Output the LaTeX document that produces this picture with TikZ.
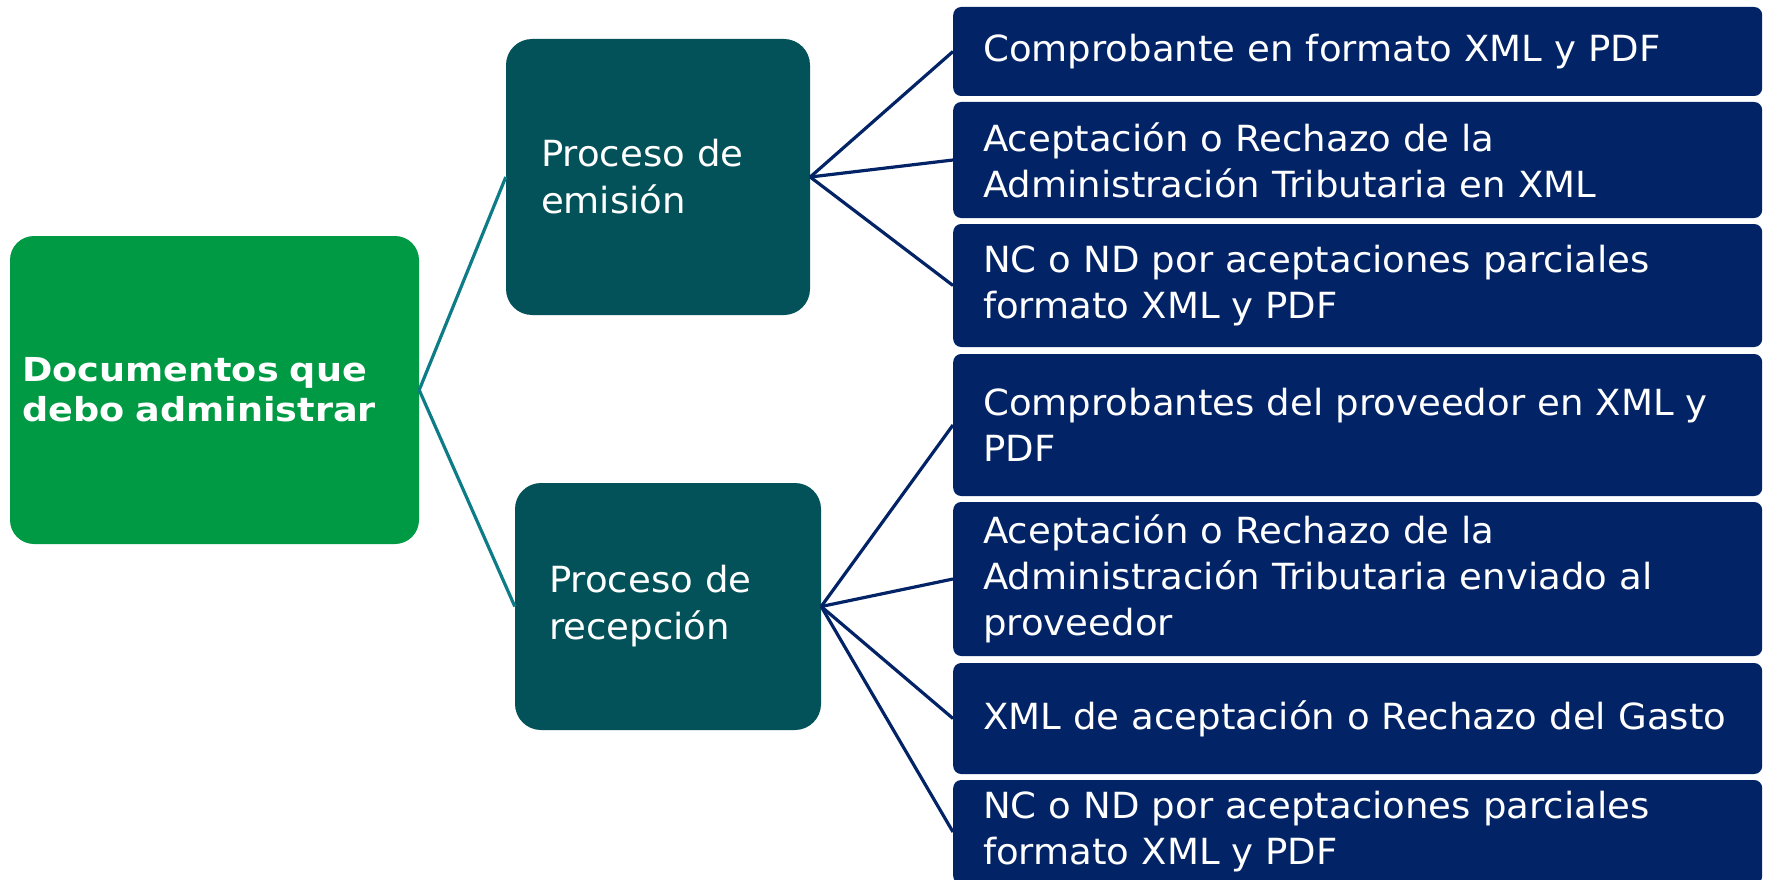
\documentclass[tikz,border=0pt]{standalone}
\usepackage{fontspec}
\usepackage{xcolor}
\usepackage{tikz}
\newfontfamily\boxfont[FakeStretch=1.03]{DejaVu Sans}
\newfontfamily\rootfont[FakeStretch=1.11]{DejaVu Sans}
\definecolor{rootgreen}{RGB}{0, 154, 68}
\definecolor{stepteal}{RGB}{3, 82, 89}
\definecolor{docnavy}{RGB}{2, 35, 102}
\definecolor{linkteal}{RGB}{14, 124, 134}

\begin{document}
\begin{tikzpicture}[x=1pt, y=-1pt,
    rootbox/.style={rectangle, rounded corners=24pt, fill=rootgreen, text=white,
      align=left, inner xsep=12pt, inner ysep=0pt, text width=385pt,
      minimum height=308pt, font=\fontsize{33}{40}\selectfont\rootfont\bfseries},
    stepbox/.style={rectangle, rounded corners=26pt, fill=stepteal, text=white,
      align=left, inner ysep=0pt, font=\fontsize{36}{47}\selectfont\boxfont},
    docbox/.style={rectangle, rounded corners=8pt, fill=docnavy, text=white,
      align=left, anchor=west, inner xsep=30pt, inner ysep=0pt, text width=749pt,
      font=\fontsize{36}{46}\selectfont\boxfont},
    rootlink/.style={draw=linkteal, line width=3.2pt},
    doclink/.style={draw=docnavy, line width=3.2pt}]
    \useasboundingbox (0,0) rectangle (1765,880);

    % root box on the left
    \node[rootbox] (root) at (214.5,390) {Documentos que\\debo administrar};

    % the two processes
    \node[stepbox, inner xsep=35pt, text width=234pt, minimum height=276pt]
          (emis) at (658,177) {Proceso de\\emisión};
    \node[stepbox, inner xsep=34pt, text width=238pt, minimum height=247pt]
          (recep) at (668,606.5) {Proceso de\\recepción};

    % documents on the right
    \foreach \cy/\h/\txt [count=\i] in {
      51.5/89/{Comprobante en formato XML y PDF},
      160/116/{Aceptación o Rechazo de la\\Administración Tributaria en XML},
      285.5/123/{NC o ND por aceptaciones parciales\\formato XML y PDF},
      425/142/{Comprobantes del proveedor en XML y\\PDF},
      579/154/{Aceptación o Rechazo de la\\Administración Tributaria enviado al\\proveedor},
      718.5/111/{XML de aceptación o Rechazo del Gasto},
      832/104/{NC o ND por aceptaciones parciales\\formato XML y PDF}
      } {
        \node[docbox, minimum height=\h pt] (doc\i) at (953,\cy) {\txt};
      }

    % connectors
    \draw[rootlink] (root.east) -- (emis.west);
    \draw[rootlink] (root.east) -- (recep.west);
    \foreach \i in {1,2,3}
      \draw[doclink] (emis.east) -- (doc\i.west);
    \foreach \i in {4,...,7}
      \draw[doclink] (recep.east) -- (doc\i.west);
\end{tikzpicture}
\end{document}
